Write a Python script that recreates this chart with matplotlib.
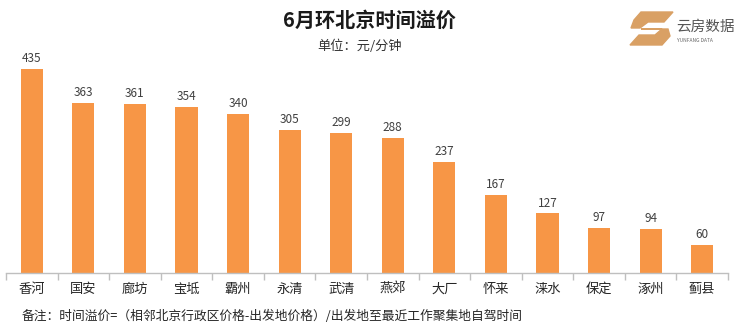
import matplotlib
matplotlib.use("Agg")
import matplotlib.pyplot as plt
from matplotlib.patches import Polygon
import numpy as np

plt.rcParams['font.family'] = ['Noto Sans CJK SC', 'DejaVu Sans']

categories = ['香河', '国安', '廊坊', '宝坻', '霸州', '永清', '武清', '燕郊', '大厂', '怀来', '涞水', '保定', '涿州', '蓟县']
values = [435, 363, 361, 354, 340, 305, 299, 288, 237, 167, 127, 97, 94, 60]

W, H = 740, 332
fig = plt.figure(figsize=(W / 100, H / 100), dpi=100)

ymax = 450
left, right, base = 6, 728, 273
top = base - ymax * 0.469
ax = fig.add_axes([left / W, 1 - base / H, (right - left) / W, (base - top) / H])

x = np.arange(len(categories))
ax.bar(x, values, width=0.43, color='#F79646', zorder=2)
for xi, v in zip(x, values):
    ax.text(xi, v + 8, str(v), ha='center', va='bottom', fontsize=8.5, color='#404040', clip_on=False)

ax.set_xlim(-0.5, len(categories) - 0.5)
ax.set_ylim(0, ymax)
ax.set_yticks([])
for s in ['top', 'right', 'left']:
    ax.spines[s].set_visible(False)
ax.spines['bottom'].set_color('#BFBFBF')
ax.spines['bottom'].set_linewidth(1.0)

ax.set_xticks(np.arange(-0.5, len(categories), 1.0), minor=False)
ax.set_xticklabels([])
ax.tick_params(axis='x', which='major', length=5, color='#BFBFBF', width=1.0)
ax.set_xticks(x, minor=True)
ax.set_xticklabels(categories, minor=True, fontsize=9.5, color='#262626')
ax.tick_params(axis='x', which='minor', length=0, pad=7)

fig.text(369 / W, 1 - 20 / H, '6月环北京时间溢价', ha='center', va='center', fontsize=14.5,
         fontweight='bold', color='#1a1a1a')
fig.text(360 / W, 1 - 46 / H, '单位：元/分钟', ha='center', va='center', fontsize=9.5, color='#333333')
fig.text(22 / W, 1 - 316 / H, '备注：时间溢价=（相邻北京行政区价格-出发地价格）/出发地至最近工作聚集地自驾时间',
         ha='left', va='center', fontsize=9.2, color='#262626')

# logo
logo_color = '#D9A064'
def fp(pts):
    return [(px / W, 1 - py / H) for px, py in pts]
fig.patches.append(Polygon(fp([(641, 12), (673, 12), (664, 22), (648, 22), (640, 28), (631, 28), (634, 20)]),
                           closed=True, transform=fig.transFigure, color=logo_color))
fig.patches.append(Polygon(fp([(641, 29), (668, 29), (670, 36), (662, 45), (630, 45), (639, 35), (655, 35), (662, 29)]),
                           closed=True, transform=fig.transFigure, color=logo_color))
fig.text(676 / W, 1 - 27 / H, '云房数据', ha='left', va='center', fontsize=10.5, color='#555555')
fig.text(677 / W, 1 - 41 / H, 'YUNFANG DATA', ha='left', va='center', fontsize=3.5, color='#666666')

fig.savefig('out.png', dpi=100)
